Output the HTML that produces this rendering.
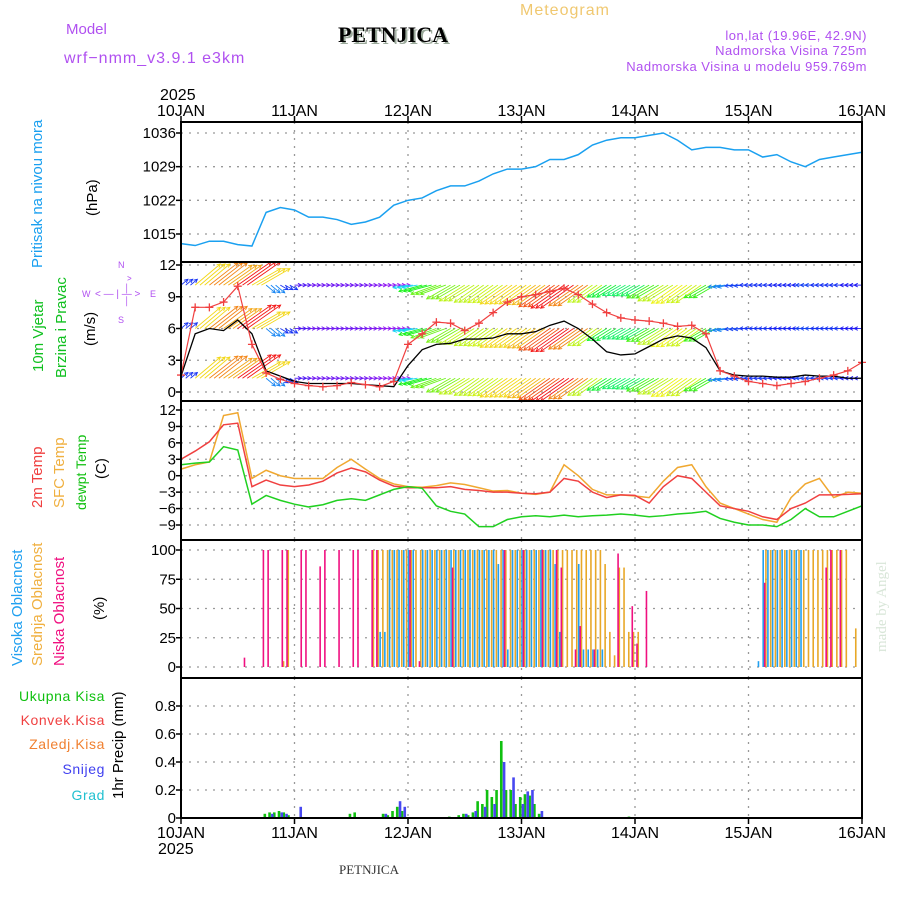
<!DOCTYPE html>
<html><head><meta charset="utf-8"><style>
html,body{margin:0;padding:0;background:#fff;}
svg{display:block;font-family:"Liberation Sans",sans-serif;}
</style></head><body>
<svg id="chart" width="900" height="900" viewBox="0 0 900 900" xmlns="http://www.w3.org/2000/svg">
<text x="66" y="34" font-size="15" fill="#b050f0">Model</text>
<text x="64" y="63" font-size="16" fill="#b050f0" letter-spacing="1">wrf−nmm_v3.9.1 e3km</text>
<text x="395" y="44" font-size="22" font-weight="bold" font-family="Liberation Serif,serif" text-anchor="middle" fill="#9aa99a">PETNJICA</text>
<text x="393" y="42" font-size="22" font-weight="bold" font-family="Liberation Serif,serif" text-anchor="middle" fill="#000">PETNJICA</text>
<text x="520" y="15" font-size="16" fill="#f0c870" letter-spacing="1">Meteogram</text>
<text x="867" y="40" font-size="13" fill="#b050f0" text-anchor="end" letter-spacing="0.5">lon,lat (19.96E, 42.9N)</text>
<text x="867" y="55" font-size="13" fill="#b050f0" text-anchor="end" letter-spacing="0.5">Nadmorska Visina 725m</text>
<text x="867" y="71" font-size="13" fill="#b050f0" text-anchor="end" letter-spacing="0.5">Nadmorska Visina u modelu 959.769m</text>
<text x="160" y="100" font-size="16">2025</text>
<text x="158" y="854" font-size="16">2025</text>
<text x="369" y="874" font-size="13" font-family="Liberation Serif,serif" text-anchor="middle" fill="#333">PETNJICA</text>
<text transform="translate(886,652) rotate(-90)" font-size="15" font-family="Liberation Serif,serif" fill="#d8e6d8">made by Angel</text>

<text transform="translate(42,268) rotate(-90)" font-size="15" fill="#1aa0f0">Pritisak na nivou mora</text>
<text transform="translate(97,216) rotate(-90)" font-size="15">(hPa)</text>
<text transform="translate(43,372) rotate(-90)" font-size="15" fill="#10c020">10m Vjetar</text>
<text transform="translate(66,378) rotate(-90)" font-size="15" fill="#10c020">Brzina i Pravac</text>
<text transform="translate(95,346) rotate(-90)" font-size="15">(m/s)</text>
<g font-size="9" fill="#b050f0">
<text x="118" y="268">N</text><text x="82" y="297">W</text><text x="150" y="297">E</text><text x="118" y="323">S</text>
<text x="95" y="297" font-size="10">&lt; — | — &gt;</text>
<text transform="translate(124,276) rotate(90)" font-size="10">^ — —</text>
</g>
<text transform="translate(42,508) rotate(-90)" font-size="15" fill="#f04040">2m Temp</text>
<text transform="translate(64,508) rotate(-90)" font-size="15" fill="#f0b040">SFC Temp</text>
<text transform="translate(86,510) rotate(-90)" font-size="14" fill="#10c010">dewpt Temp</text>
<text transform="translate(106,479) rotate(-90)" font-size="15">(C)</text>
<text transform="translate(22,666) rotate(-90)" font-size="15" fill="#20a0f0">Visoka Oblacnost</text>
<text transform="translate(42,666) rotate(-90)" font-size="15" fill="#f0b040">Srednja Oblacnost</text>
<text transform="translate(64,666) rotate(-90)" font-size="15" fill="#f01080">Niska Oblacnost</text>
<text transform="translate(104,620) rotate(-90)" font-size="15">(%)</text>
<g font-size="14" text-anchor="end" letter-spacing="0.6">
<text x="105" y="701" fill="#10c010">Ukupna  Kisa</text>
<text x="105" y="725" fill="#f04040">Konvek.Kisa</text>
<text x="105" y="749" fill="#f08030">Zaledj.Kisa</text>
<text x="105" y="774" fill="#4040f0">Snijeg</text>
<text x="105" y="800" fill="#20c0d0">Grad</text>
</g>
<text transform="translate(123,799) rotate(-90)" font-size="15">1hr Precip (mm)</text>
<g id="plot"></g>
</svg>
<script>
const pressure=[1013,1012.6,1013.5,1013.5,1012.8,1012.5,1019.5,1020.5,1020,1018.5,1018.5,1018,1017,1017.5,1018.5,1021,1022,1022.5,1024,1025,1025,1026,1027.5,1028.5,1028.5,1029,1030.5,1030.5,1031.5,1033.5,1034.5,1035,1035,1035.5,1036,1034.5,1032.5,1033,1033,1032.5,1032.5,1031,1031.5,1030,1029,1030.5,1031,1031.5,1032];
const temp2m=[3,4.5,6.2,9.3,9.6,-2,-0.8,-1.7,-2,-1.7,-1,0.5,1.4,0.7,-0.8,-1.9,-2.2,-2.2,-2.2,-2,-2.5,-2.7,-3,-3,-3.2,-3.3,-3,-0.5,-1,-3,-4,-3.5,-3.6,-5,-2,0,-0.5,-3,-5.5,-6,-6.5,-7.5,-8,-6,-5,-3.5,-3.5,-3.4,-3.3];
const tempSfc=[1.2,2,2.5,11,11.5,-0.5,1,0,-0.5,-0.5,-0.5,1.5,3,1.2,-0.5,-1.5,-2,-2.1,-1.8,-1.3,-1.6,-2.2,-2.8,-2.7,-3.2,-3.4,-3,2,0,-2.5,-3.5,-3.5,-3.7,-4,-1,1.5,2,-2,-5,-6,-7,-8,-8.5,-4,-1.5,-0.5,-4,-3,-3.2];
const dewpt=[2,2.3,2.5,5.3,4.7,-5.2,-3.6,-4.5,-5.2,-5.7,-5.3,-4.5,-4.2,-4.5,-3.5,-2.5,-2,-2.3,-5.5,-6.5,-7,-9.3,-9.3,-8,-7.5,-7.3,-7.5,-7.2,-7.5,-7.3,-7.2,-7,-7.2,-7.5,-7.3,-7,-6.8,-6.5,-7.8,-8.5,-9,-9,-9.3,-8,-6,-7.5,-7.5,-6.5,-5.5];
const windSpeed=[1.5,5.5,6,5.8,6.8,5.5,2,1.5,1,0.8,0.8,0.8,0.8,0.7,0.6,0.5,2.5,4,4.5,4.6,5,5,5.1,5.5,5.5,5.7,6.3,6.7,6,5,3.8,3.5,3.6,4.3,5,5.3,5.1,4.2,2,1.6,1.5,1.5,1.4,1.4,1.6,1.5,1.5,1.3,1.3];
const windGust=[1.6,8,8,8.5,10,4.5,1.8,1.2,0.8,0.6,0.5,0.6,0.9,0.7,0.5,1,4.5,5.5,6.6,6.5,5.8,6.5,7.5,8.5,9,9.2,9.5,9.8,9.2,8.3,7.5,7,6.8,6.7,6.5,6.2,6.3,5.5,2,1.5,1,0.8,0.6,0.8,1,1.3,1.6,2,2.8];
const windDir=[-40,-40,-38,-35,-35,-30,40,30,0,0,0,0,0,0,0,0,170,165,160,150,148,145,145,145,145,145,145,145,145,145,148,150,150,150,148,145,145,150,170,175,180,180,180,180,180,180,180,180,180];
const cloudHigh=[0,0,0,0,0,0,0,0,0,0,0,0,0,0,0,0,0,0,0,0,0,0,0,0,
0,0,0,0,0,0,0,0,0,0,0,0,0,0,0,0,0,0,30,30,100,100,100,100,
100,100,0,100,100,100,100,100,100,100,100,100,100,100,100,100,100,100,100,88,100,15,100,100,
100,100,100,100,100,100,100,88,30,0,0,0,88,15,15,15,15,15,0,0,0,0,0,0,
0,0,0,0,0,0,0,0,0,0,0,0,0,0,0,0,0,0,0,0,0,0,0,0,
0,0,5,100,100,100,100,100,100,100,100,100,0,0,0,0,0,0,0,0,0,0,0,0,0];
const cloudMid=[0,0,0,0,0,0,0,0,0,0,0,0,0,0,0,0,0,0,0,0,0,0,5,100,
0,0,0,0,0,0,0,0,0,0,0,0,0,0,0,0,0,100,100,100,100,100,100,100,
100,100,100,100,100,100,100,100,100,100,100,100,100,100,100,100,100,100,100,100,100,100,100,100,
100,100,100,100,100,100,100,100,100,100,100,100,100,100,100,100,100,100,88,30,10,85,85,30,
30,30,0,0,0,0,0,0,0,0,0,0,0,0,0,0,0,0,0,0,0,0,0,0,
0,0,0,0,100,100,100,100,100,100,100,100,100,100,100,100,100,100,100,100,100,100,0,33,0];
const cloudLow=[0,0,0,0,0,0,0,0,0,0,0,0,0,8,0,0,0,100,100,0,0,100,100,0,
0,100,100,0,0,86,100,0,0,100,0,0,100,100,0,0,100,100,0,0,0,0,0,0,
100,0,5,0,0,0,0,0,0,85,0,0,0,0,0,0,0,0,0,0,100,0,0,0,
100,0,0,0,100,0,0,100,85,0,0,15,35,0,0,15,0,0,0,0,97,0,0,52,
20,0,65,0,0,0,0,0,0,0,0,0,0,0,0,0,0,0,0,0,0,0,0,0,
0,0,0,72,0,0,0,0,0,0,0,0,0,0,0,0,85,100,0,100,0,0,0,0,0];
const precipTotal=[0,0,0,0,0,0,0,0,0,0,0,0,0,0,0,0,0,0,0.03,0.04,0.04,0.05,0.04,0.02,
0,0,0,0,0,0,0,0,0,0,0,0,0.03,0.04,0,0,0,0,0,0.03,0.02,0.05,0.08,0.05,
0,0,0,0,0,0,0,0,0,0.01,0,0.02,0.03,0.02,0.04,0.12,0.1,0.2,0.15,0.2,0.55,0.2,0.2,0.1,
0.15,0.17,0.16,0.1,0.03,0,0,0,0,0,0,0,0,0,0,0,0,0,0,0,0,0,0,0.01,
0,0,0,0,0,0,0,0,0,0,0,0,0,0,0,0,0,0,0,0,0,0,0,0,
0,0,0,0,0,0,0,0,0,0,0,0,0,0,0,0,0,0,0,0,0,0,0,0,0];
const precipSnow=[0,0,0,0,0,0,0,0,0,0,0,0,0,0,0,0,0,0,0,0.03,0,0.04,0.03,0,
0,0.08,0,0,0,0,0,0,0,0,0,0,0,0,0,0,0,0,0,0.03,0,0,0.12,0.08,
0,0,0,0,0,0,0,0,0,0,0,0,0.03,0,0.05,0,0.08,0,0.1,0,0.4,0,0.29,0,
0.1,0.19,0.2,0,0.05,0,0,0,0,0,0,0,0,0,0,0,0,0,0,0,0,0,0,0,
0,0,0,0,0,0,0,0,0,0,0,0,0,0,0,0,0,0,0,0,0,0,0,0,
0,0,0,0,0,0,0,0,0,0,0,0,0,0,0,0,0,0,0,0,0,0,0,0,0];
const dayLabels=["10JAN","11JAN","12JAN","13JAN","14JAN","15JAN","16JAN"];
const pTicks=[1015,1022,1029,1036];
const wTicks=[0,3,6,9,12];
const tTicks=[-9,-6,-3,0,3,6,9,12];
const cTicks=[0,25,50,75,100];
const rTicks=[0,0.2,0.4,0.6,0.8];

const NS="http://www.w3.org/2000/svg";
const plot=document.getElementById('plot');
const X0=181,X1=862,HRS=144;
function xH(h){return X0+(X1-X0)*h/HRS;}
function lin(d0,d1,r0,r1){return v=>r0+(v-d0)*(r1-r0)/(d1-d0);}
const panels=[
 {name:'pressure',top:122,bot:262,y:lin(1015,1036,234,133),ticks:pTicks},
 {name:'wind',top:262,bot:401,y:lin(0,12,392,265),ticks:wTicks},
 {name:'temp',top:401,bot:540,y:lin(-9,12,525,410),ticks:tTicks},
 {name:'cloud',top:540,bot:678,y:lin(0,100,667,550),ticks:cTicks},
 {name:'precip',top:678,bot:818,y:lin(0,0.8,818,706),ticks:rTicks}];
function mk(tag,attrs,parent){const e=document.createElementNS(NS,tag);for(const k in attrs)e.setAttribute(k,attrs[k]);(parent||plot).appendChild(e);return e;}

panels.forEach(p=>{
  const g=mk('g',{});
  
  
  for(let d=1;d<6;d++){
    const l=mk('line',{x1:xH(d*24),x2:xH(d*24),y1:p.top,y2:p.bot,stroke:'#999','stroke-width':1.3,'stroke-dasharray':'2 6'},g);
    
    
  }
  p.ticks.forEach(t=>{
    const yy=p.y(t);
    const l=mk('line',{x1:X0,x2:X1,y1:yy,y2:yy,stroke:'#999','stroke-width':1.3,'stroke-dasharray':'2 6'},g);
    
    
    mk('line',{x1:X0-5,x2:X0,y1:yy,y2:yy,stroke:'#000','stroke-width':1.5},g);
    const tx=mk('text',{x:176,y:yy+5,'font-size':15,'text-anchor':'end'},g);
    tx.textContent=(p.name==='temp'&&t<0)?('−'+(-t)):String(t);
    
    
  });
});

function poly(arr,yf,color,name,w){
  const pts=arr.map((v,i)=>xH(i*3)+','+yf(v)).join(' ');
  const e=mk('polyline',{points:pts,fill:'none',stroke:color,'stroke-width':w||1.5});
  
  
  return e;
}
poly(pressure,panels[0].y,'#1aa0f0','pressure-line',1.5);

const wy=panels[1].y;
const rows=[10.1,6.0,1.3];
function hue(s){return Math.max(0,300-s*45);}
rows.forEach(r=>{
  windSpeed.forEach((s,i)=>{
    for(let k=0;k<3;k++){
      if(i===windSpeed.length-1&&k>0)continue;
      const x=xH(i*3+k),y=wy(r);
      const L=Math.max(7,s*6);
      const a=windDir[i]*Math.PI/180;
      const x2=x+L*Math.cos(a),y2=y+L*Math.sin(a);
      const col='hsl('+hue(s)+',90%,52%)';
      const ar=mk('line',{x1:x,y1:y,x2:x2,y2:y2,stroke:col,'stroke-width':0.9});
      
      
      const ha=a+Math.PI*0.85,hb=a-Math.PI*0.85;
      mk('polyline',{points:(x2+4*Math.cos(ha))+','+(y2+4*Math.sin(ha))+' '+x2+','+y2+' '+(x2+4*Math.cos(hb))+','+(y2+4*Math.sin(hb)),fill:'none',stroke:col,'stroke-width':0.9});
    }
  });
});
poly(windSpeed,wy,'#000','wind-speed-line',1.3);
poly(windGust,wy,'#f04040','wind-gust-line',1.2);
windGust.forEach((v,i)=>{
  const x=xH(i*3),y=wy(v);
  const m=mk('path',{d:`M${x-4},${y}H${x+4}M${x},${y-4}V${y+4}`,stroke:'#f04040','stroke-width':1.3});
  
  
});

const ty=panels[2].y;
poly(tempSfc,ty,'#f0a830','sfc-temp-line',1.5);
poly(temp2m,ty,'#f04040','temp-2m-line',1.5);
poly(dewpt,ty,'#20d020','dewpoint-line',1.5);

const cy=panels[3].y;
function cloudBars(arr,off,color,name){
  arr.forEach((v,h)=>{
    const x=xH(h)+off;
    const b=mk('line',{x1:x,x2:x,y1:cy(0),y2:cy(v),stroke:color,'stroke-width':1.6});
    
    
  });
}
cloudBars(cloudMid,-1.5,'#e8a828','cloud-mid-bar');
cloudBars(cloudHigh,0.5,'#20a0f0','cloud-high-bar');
cloudBars(cloudLow,2,'#f01080','cloud-low-bar');

const ry=panels[4].y;
function precipBars(arr,off,color,name){
  arr.forEach((v,h)=>{
    if(v<=0)return;
    const x=xH(h)+off;
    const b=mk('rect',{x:x,y:ry(v),width:2.6,height:ry(0)-ry(v),fill:color});
    
    
  });
}
precipBars(precipTotal,-2.6,'#10c010','precip-total-bar');
precipBars(precipSnow,0.2,'#4848f0','precip-snow-bar');

panels.forEach(p=>{
  const f=mk('rect',{x:X0,y:p.top,width:X1-X0,height:p.bot-p.top,fill:'none',stroke:'#000','stroke-width':2});
  
  
});
dayLabels.forEach((d,i)=>{
  const x=xH(i*24);
  mk('line',{x1:x,x2:x,y1:116,y2:122,stroke:'#000','stroke-width':1.5});
  mk('line',{x1:x,x2:x,y1:818,y2:824,stroke:'#000','stroke-width':1.5});
  const t=mk('text',{x:x,y:116,'font-size':16,'text-anchor':'middle'});
  t.textContent=d;
  
  
  const b=mk('text',{x:x,y:838,'font-size':16,'text-anchor':'middle'});
  b.textContent=d;
  
  
});
</script>
</body></html>
